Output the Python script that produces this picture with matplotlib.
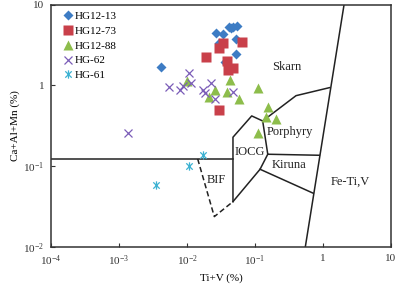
import matplotlib
matplotlib.use("Agg")
import matplotlib.pyplot as plt
from matplotlib.path import Path

plt.rcParams["font.family"] = ["Liberation Serif", "DejaVu Serif"]
plt.rcParams["mathtext.fontset"] = "custom"
plt.rcParams["mathtext.rm"] = "Liberation Serif"
plt.rcParams["mathtext.it"] = "Liberation Serif:italic"

# 样品数据 (Ti+V %, Ca+Al+Mn %)
hg12_13_x = [0.0041, 0.0267, 0.0335, 0.0419, 0.048, 0.055, 0.0526, 0.052, 0.0362, 0.0299, 0.044]
hg12_13_y = [1.71, 4.50, 4.30, 5.25, 5.33, 5.50, 3.76, 2.45, 1.97, 3.38, 5.1]

hg12_73_x = [0.0187, 0.0299, 0.0342, 0.0637, 0.0384, 0.0405, 0.048, 0.0299]
hg12_73_y = [2.23, 2.88, 3.33, 3.48, 2.00, 1.55, 1.63, 0.495]

hg12_88_x = [0.0099, 0.0429, 0.0258, 0.0384, 0.0213, 0.0587, 0.1096, 0.157, 0.145, 0.204, 0.1096]
hg12_88_y = [1.13, 1.17, 0.877, 0.836, 0.725, 0.673, 0.921, 0.535, 0.403, 0.384, 0.255]

hg_62_x = [0.00137, 0.0055, 0.00789, 0.00883, 0.0108, 0.01146, 0.0223, 0.0170, 0.0184, 0.0258, 0.048]
hg_62_y = [0.255, 0.947, 0.865, 0.98, 1.41, 1.08, 1.06, 0.877, 0.798, 0.673, 0.824]

hg_61_x = [0.00344, 0.0108, 0.0170]
hg_61_y = [0.0583, 0.100, 0.1375]

# 判别图边界线
solid_lines = [
    ([1e-4, 0.0474], [0.1225, 0.1225]),
    ([0.0474, 0.0474, 0.0894, 0.1297, 0.154, 0.883], [0.0362, 0.2276, 0.418, 0.362, 0.140, 0.136]),
    ([0.0474, 0.1186, 0.154], [0.0362, 0.0912, 0.140]),
    ([0.1186, 0.719], [0.0912, 0.046]),
    ([0.1297, 0.401, 1.24], [0.362, 0.745, 0.936]),
    ([2.04, 0.55], [10, 0.01]),
]
dashed_lines = [
    ([0.01435, 0.0252, 0.0474], [0.1225, 0.0236, 0.0362]),
]

region_labels = ["Skarn", "Porphyry", "IOCG", "Kiruna", "BIF", "Fe-Ti,V"]
region_x = [0.292, 0.325, 0.0824, 0.32, 0.0274, 2.49]
region_y = [1.71, 0.267, 0.151, 0.104, 0.0673, 0.064]

x_ticks = [1e-4, 1e-3, 1e-2, 1e-1, 1, 10]
x_tick_labels = ["10$^{-4}$", "10$^{-3}$", "10$^{-2}$", "10$^{-1}$", "1", "10"]
y_ticks = [1e-2, 1e-1, 1, 10]
y_tick_labels = ["10$^{-2}$", "10$^{-1}$", "1", "10"]

star = Path(
    [(-1, -1), (1, 1), (-1, 1), (1, -1), (0, -1.3), (0, 1.3)],
    [Path.MOVETO, Path.LINETO, Path.MOVETO, Path.LINETO, Path.MOVETO, Path.LINETO],
)

fig = plt.figure(figsize=(4.02, 2.93), dpi=100)
ax = fig.add_axes([0.127, 0.158, 0.8456, 0.826])
ax.set_xscale("log")
ax.set_yscale("log")
ax.set_xlim(1e-4, 10)
ax.set_ylim(1e-2, 10)

for xs, ys in solid_lines:
    ax.plot(xs, ys, color="#222222", lw=1.1, zorder=1)
for xs, ys in dashed_lines:
    ax.plot(xs, ys, color="#222222", lw=1.1, ls=(0, (3.5, 2)), zorder=1)

for text, x, y in zip(region_labels, region_x, region_y):
    ax.text(x, y, text, ha="center", va="center", fontsize=9, color="#222222")

ax.plot(hg12_13_x, hg12_13_y, ls="none", marker="D", ms=4.8, color="#3d7cc4", mec="none", label="HG12-13", zorder=3)
ax.plot(hg12_73_x, hg12_73_y, ls="none", marker="s", ms=6.5, color="#c9404a", mec="none", label="HG12-73", zorder=4)
ax.plot(hg12_88_x, hg12_88_y, ls="none", marker="^", ms=7, color="#8dbd4b", mec="none", label="HG12-88", zorder=3)
ax.plot(hg_62_x, hg_62_y, ls="none", marker="x", ms=6, mew=0.9, color="#7b5db8", label="HG-62", zorder=3)
ax.plot(hg_61_x, hg_61_y, ls="none", marker=star, ms=6, mew=0.9, color="#3cb2d2", label="HG-61", zorder=3)

ax.legend(loc="upper left", frameon=False, fontsize=8, handlelength=0.6, handletextpad=0.3,
          labelspacing=0.45, borderaxespad=0.2, bbox_to_anchor=(0.02, 1.0))

ax.set_xticks(x_ticks)
ax.set_xticklabels(x_tick_labels)
ax.set_yticks(y_ticks)
ax.set_yticklabels(y_tick_labels)
ax.minorticks_off()
ax.tick_params(direction="in", length=3, width=0.8, labelsize=8, colors="#333333", pad=5)
for spine in ax.spines.values():
    spine.set_color("#333333")
    spine.set_linewidth(1.1)

ax.set_xlabel("Ti+V (%)", fontsize=8, labelpad=4)
ax.set_ylabel("Ca+Al+Mn (%)", fontsize=8, labelpad=2)

fig.savefig("out.png", dpi=100)
